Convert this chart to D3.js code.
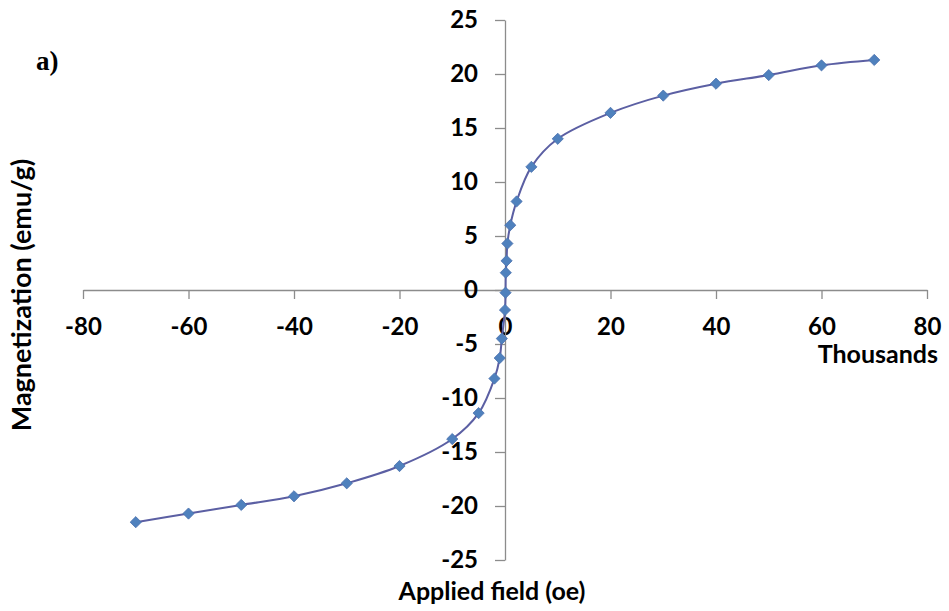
<!DOCTYPE html>
<html>
<head>
<meta charset="utf-8">
<script src="https://cdn.jsdelivr.net/npm/d3@7"></script>
<style>
  body { margin: 0; background: #fff; }
  text { font-family: Lato, "Open Sans", sans-serif; font-weight: bold; fill: #000; }
</style>
</head>
<body>
<div id="chart"></div>
<script>
// field in thousands of Oe, magnetization in emu/g
const field = [-70, -60, -50, -40, -30, -20, -10, -5, -2, -1, -0.6, 0, 0.1, 0.15, 0.3, 0.45, 1, 2.2, 5, 10, 20, 30, 40, 50, 60, 70];
const magnet = [-21.5, -20.7, -19.9, -19.1, -17.9, -16.3, -13.8, -11.4, -8.2, -6.3, -4.5, -1.85, -0.25, 1.6, 2.7, 4.3, 6.0, 8.2, 11.4, 14.0, 16.4, 18.0, 19.1, 19.9, 20.8, 21.3];
const xTicks = [-80, -60, -40, -20, 0, 20, 40, 60, 80];
const yTicks = [-25, -20, -15, -10, -5, 0, 5, 10, 15, 20, 25];

const width = 949;
const height = 611;

const x = d3.scaleLinear().domain([-80, 80]).range([83, 927]);
const y = d3.scaleLinear().domain([-25, 25]).range([560, 20]);

// plain hyphen for negatives, like the original
const fmt = d => String(d);

const svg = d3.select("#chart")
    .append("svg")
    .attr("width", width)
    .attr("height", height);

// x axis through the origin
const xAxis = svg.append("g")
    .attr("transform", `translate(0, ${y(0)})`)
    .call(d3.axisBottom(x).tickValues(xTicks).tickFormat(fmt).tickSize(9).tickPadding(16).tickSizeOuter(0));

// y axis through the origin
const yAxis = svg.append("g")
    .attr("transform", `translate(${x(0)}, 0)`)
    .call(d3.axisLeft(y).tickValues(yTicks).tickFormat(fmt).tickSize(10).tickPadding(17).tickSizeOuter(0));

[xAxis, yAxis].forEach(g => {
    g.select(".domain").attr("stroke", "#8c8c8c").attr("stroke-width", 1.3);
    g.selectAll(".tick line").attr("stroke", "#8c8c8c").attr("stroke-width", 1.3);
    g.selectAll(".tick text").attr("font-size", 24).attr("font-family", "Lato").attr("font-weight", "bold").attr("fill", "#000");
});
xAxis.selectAll(".tick text").attr("dy", "0.85em");

const points = field.map((f, i) => [f, magnet[i]]);

const line = d3.line()
    .x(d => x(d[0]))
    .y(d => y(d[1]))
    .curve(d3.curveCatmullRom.alpha(0.5));

svg.append("path")
    .datum(points)
    .attr("d", line)
    .attr("fill", "none")
    .attr("stroke", "#5b5fa3")
    .attr("stroke-width", 2);

const diamond = d3.symbol().type(d3.symbolDiamond2).size(80);

svg.selectAll(".pt")
    .data(points)
    .enter()
    .append("path")
    .attr("class", "pt")
    .attr("d", diamond)
    .attr("transform", d => `translate(${x(d[0])}, ${y(d[1])})`)
    .attr("fill", "#4f81bd")
    .attr("stroke", "#4a70ad")
    .attr("stroke-width", 0.8);

// titles
svg.append("text")
    .attr("x", 938)
    .attr("y", 363)
    .attr("text-anchor", "end")
    .attr("font-size", 25)
    .text("Thousands");

svg.append("text")
    .attr("x", 492)
    .attr("y", 600)
    .attr("text-anchor", "middle")
    .attr("font-size", 25)
    .text("Applied field (oe)");

svg.append("text")
    .attr("transform", "translate(31, 295) rotate(-90)")
    .attr("text-anchor", "middle")
    .attr("font-size", 27)
    .text("Magnetization (emu/g)");

svg.append("text")
    .attr("x", 36)
    .attr("y", 70)
    .attr("font-size", 27)
    .style("font-family", "'Liberation Serif', serif")
    .text("a)");
</script>
</body>
</html>
